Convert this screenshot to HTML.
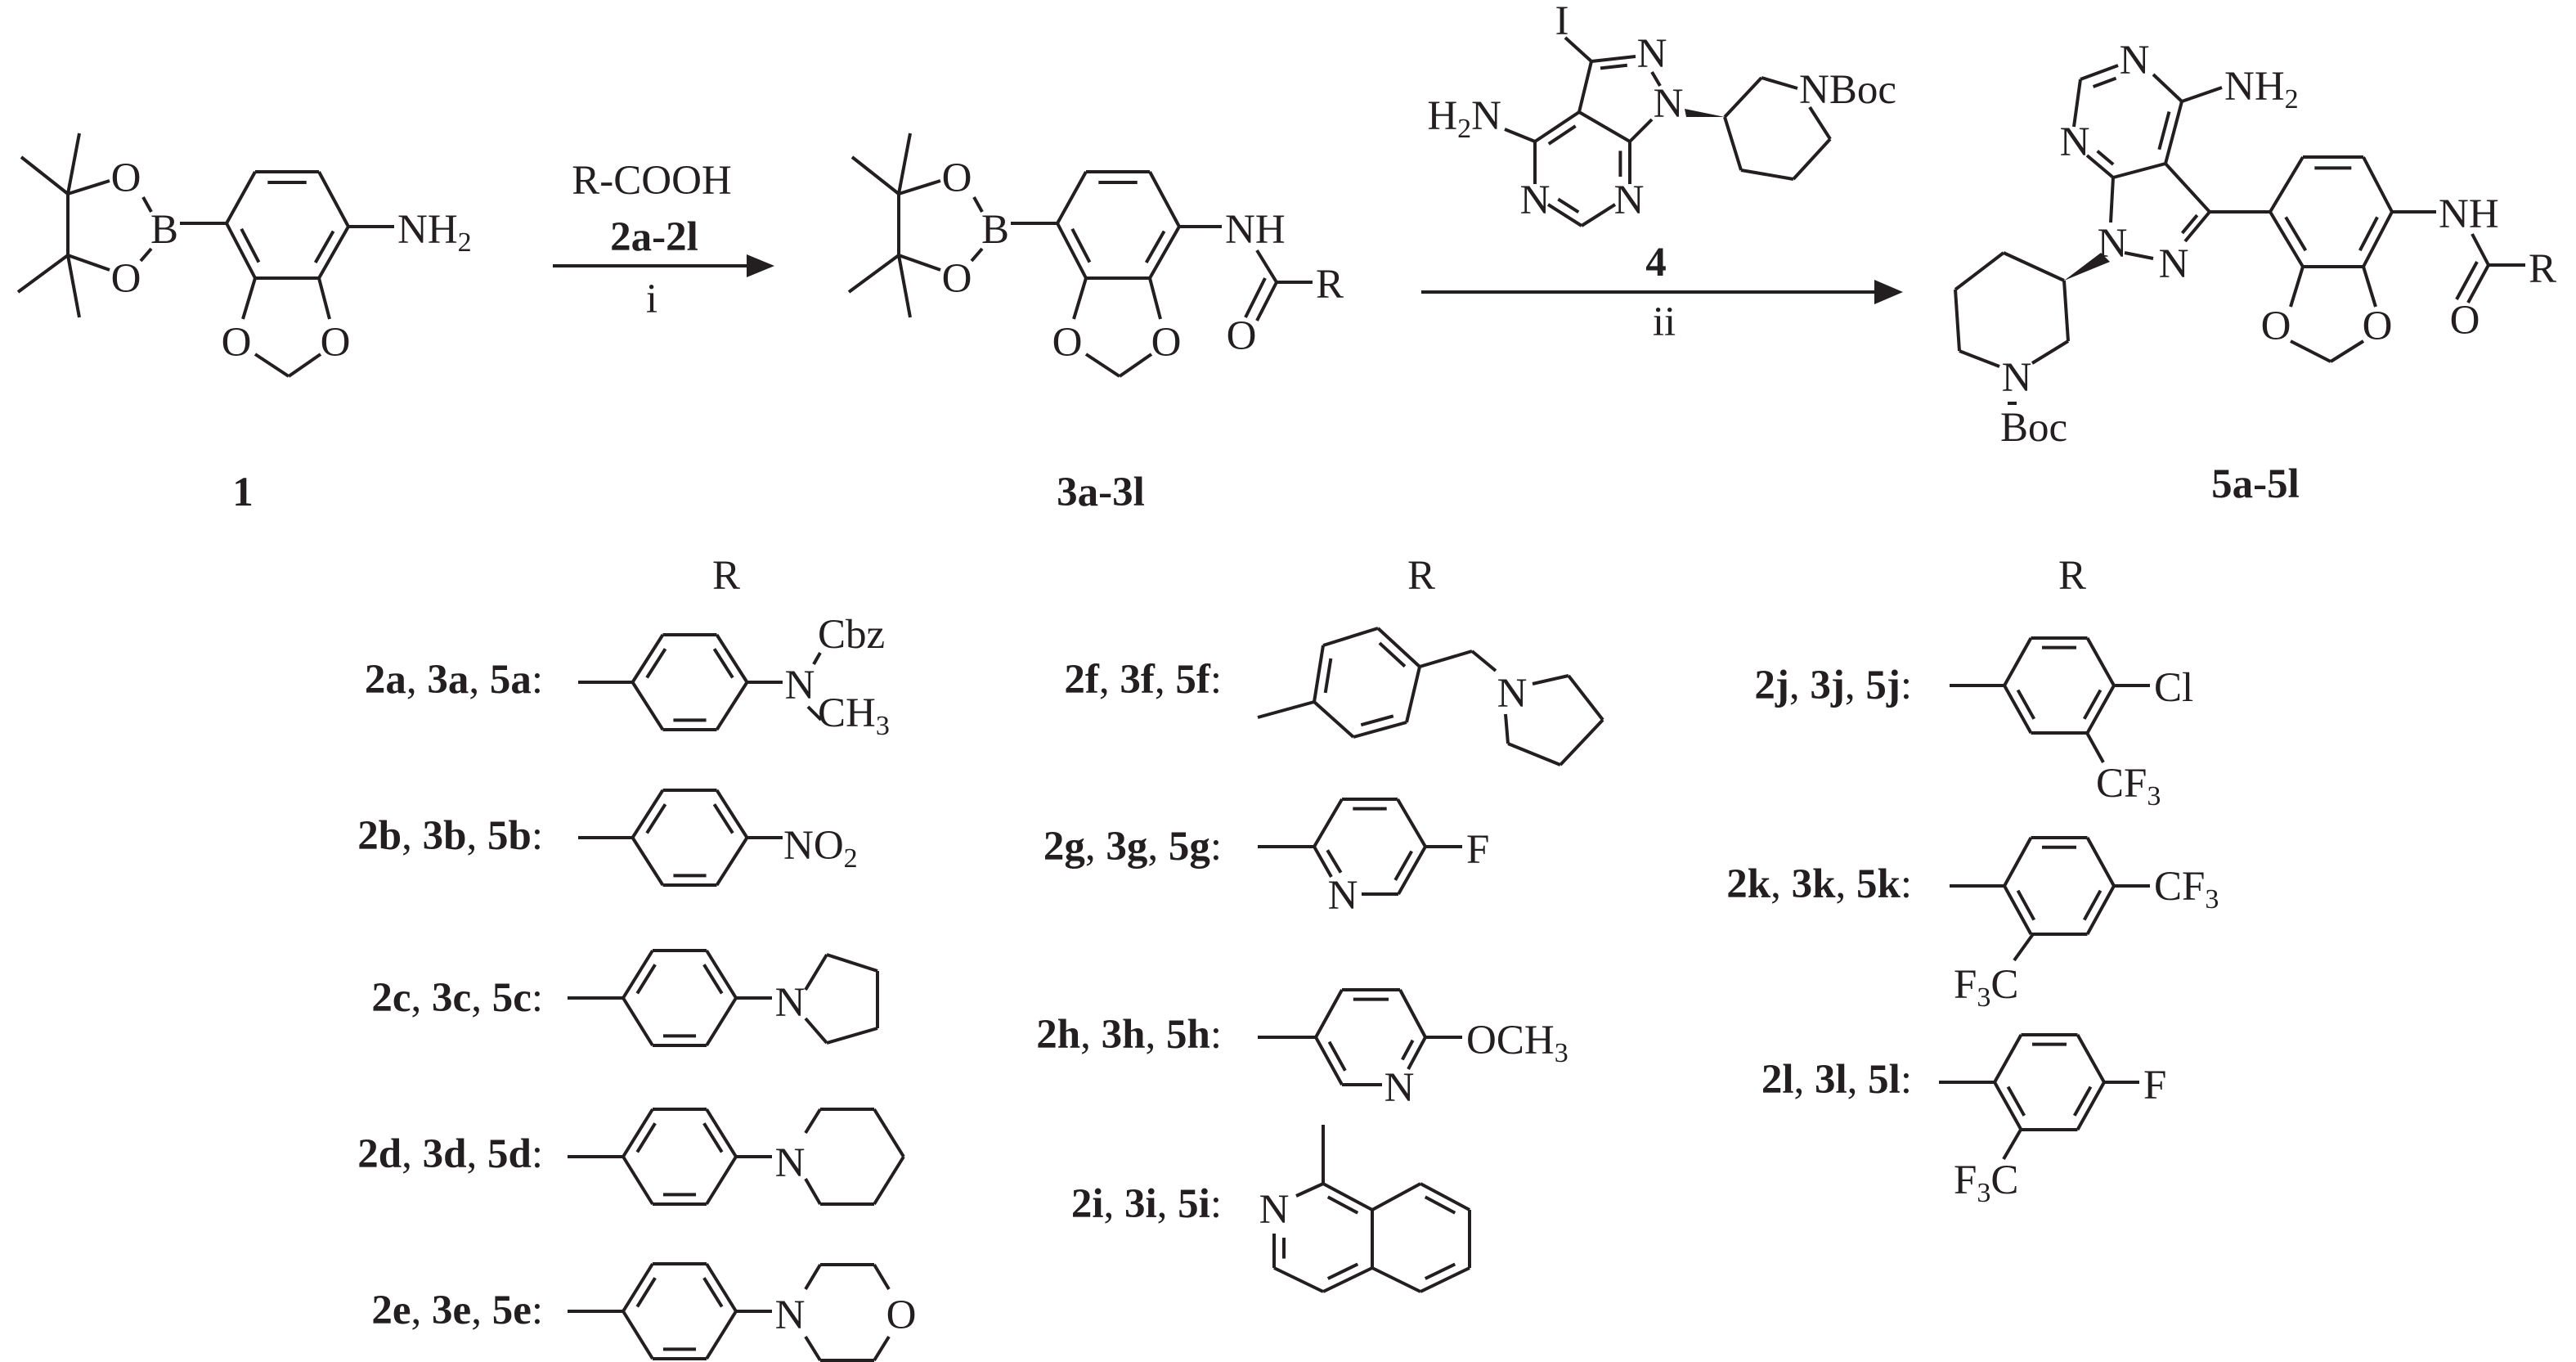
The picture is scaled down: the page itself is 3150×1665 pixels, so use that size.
<!DOCTYPE html>
<html><head><meta charset="utf-8"><style>
html,body{margin:0;padding:0;background:#fff;}
svg{display:block}
text{font-family:"Liberation Serif",serif;font-size:51px;fill:#231f20}
.b{font-weight:bold}
.m{text-anchor:middle}
.e{text-anchor:end}
</style></head><body>
<svg id="s" xmlns="http://www.w3.org/2000/svg" width="3150" height="1665" viewBox="0 0 3150 1665">
<g id="L" stroke="#231f20" stroke-width="4" fill="none" stroke-linecap="butt"></g>
<polygon points="947,325 913,311 913,339" fill="#231f20"/>
<polygon points="2327,357 2292,342 2292,372" fill="#231f20"/>
<polygon points="2060,133 2062,143 2109,143" fill="#231f20"/>
<polygon points="2569,309 2580,320 2524,343" fill="#231f20"/>

<text class="m" x="154" y="234">O</text><text class="m" x="154" y="357">O</text>
<text class="m" x="201" y="297">B</text>
<text x="486" y="297">NH<tspan font-size="34" dy="10">2</tspan></text>
<text class="m" x="289" y="435">O</text><text class="m" x="410" y="435">O</text>
<text class="m b" x="297" y="618">1</text>
<text class="m" x="797" y="237">R-COOH</text>
<text class="m b" x="800" y="306">2a-2l</text>
<text class="m" x="797" y="382">i</text>
<text class="m" x="1170" y="234">O</text><text class="m" x="1170" y="357">O</text>
<text class="m" x="1217" y="297">B</text>
<text x="1498" y="297">NH</text>
<text x="1609" y="364">R</text>
<text class="m" x="1518" y="427">O</text>
<text class="m" x="1305" y="435">O</text><text class="m" x="1426" y="435">O</text>
<text class="m b" x="1346" y="618">3a-3l</text>
<text class="m" x="1910" y="42">I</text>
<text class="m" x="2020" y="82">N</text>
<text class="m" x="2040" y="143">N</text>
<text x="2200" y="126">NBoc</text>
<text class="e" x="1836" y="158">H<tspan font-size="34" dy="10">2</tspan><tspan dy="-10">N</tspan></text>
<text class="m" x="1877" y="261">N</text>
<text class="m" x="1992" y="261">N</text>
<text class="m b" x="2025" y="337">4</text>
<text class="m" x="2035" y="410">ii</text>
<text class="m" x="2610" y="90">N</text>
<text x="2720" y="122">NH<tspan font-size="34" dy="10">2</tspan></text>
<text class="m" x="2537" y="190">N</text>
<text class="m" x="2583" y="314">N</text>
<text class="m" x="2658" y="339">N</text>
<text x="2982" y="278">NH</text>
<text x="3092" y="345">R</text>
<text class="m" x="3014" y="408">O</text>
<text class="m" x="2783" y="415">O</text><text class="m" x="2907" y="415">O</text>
<text class="m" x="2466" y="478">N</text>
<text x="2446" y="539">Boc</text>
<text class="m b" x="2758" y="608">5a-5l</text>

<text class="m" x="888" y="720">R</text>
<text class="m" x="1738" y="720">R</text>
<text class="m" x="2534" y="720">R</text>

<text class="e" x="664" y="847"><tspan class="b">2a</tspan>, <tspan class="b">3a</tspan>, <tspan class="b">5a</tspan>:</text>
<text class="e" x="664" y="1038"><tspan class="b">2b</tspan>, <tspan class="b">3b</tspan>, <tspan class="b">5b</tspan>:</text>
<text class="e" x="664" y="1236"><tspan class="b">2c</tspan>, <tspan class="b">3c</tspan>, <tspan class="b">5c</tspan>:</text>
<text class="e" x="664" y="1427"><tspan class="b">2d</tspan>, <tspan class="b">3d</tspan>, <tspan class="b">5d</tspan>:</text>
<text class="e" x="664" y="1618"><tspan class="b">2e</tspan>, <tspan class="b">3e</tspan>, <tspan class="b">5e</tspan>:</text>
<text class="e" x="1494" y="847"><tspan class="b">2f</tspan>, <tspan class="b">3f</tspan>, <tspan class="b">5f</tspan>:</text>
<text class="e" x="1494" y="1051"><tspan class="b">2g</tspan>, <tspan class="b">3g</tspan>, <tspan class="b">5g</tspan>:</text>
<text class="e" x="1494" y="1281"><tspan class="b">2h</tspan>, <tspan class="b">3h</tspan>, <tspan class="b">5h</tspan>:</text>
<text class="e" x="1494" y="1488"><tspan class="b">2i</tspan>, <tspan class="b">3i</tspan>, <tspan class="b">5i</tspan>:</text>
<text class="e" x="2338" y="854"><tspan class="b">2j</tspan>, <tspan class="b">3j</tspan>, <tspan class="b">5j</tspan>:</text>
<text class="e" x="2338" y="1097"><tspan class="b">2k</tspan>, <tspan class="b">3k</tspan>, <tspan class="b">5k</tspan>:</text>
<text class="e" x="2338" y="1336"><tspan class="b">2l</tspan>, <tspan class="b">3l</tspan>, <tspan class="b">5l</tspan>:</text>

<text class="m" x="978" y="854">N</text>
<text x="1000" y="792">Cbz</text>
<text x="1000" y="888">CH<tspan font-size="34" dy="10">3</tspan></text>
<text x="958" y="1050">NO<tspan font-size="34" dy="10">2</tspan></text>
<text class="m" x="966" y="1242">N</text>
<text class="m" x="966" y="1438">N</text>
<text class="m" x="966" y="1624">N</text>
<text class="m" x="1102" y="1624">O</text>
<text class="m" x="1849" y="864">N</text>
<text class="m" x="1642" y="1111">N</text>
<text x="1793" y="1055">F</text>
<text class="m" x="1711" y="1346">N</text>
<text x="1793" y="1288">OCH<tspan font-size="34" dy="10">3</tspan></text>
<text class="m" x="1558" y="1495">N</text>
<text x="2634" y="857">Cl</text>
<text x="2563" y="974">CF<tspan font-size="34" dy="10">3</tspan></text>
<text x="2634" y="1100">CF<tspan font-size="34" dy="10">3</tspan></text>
<text x="2389" y="1220">F<tspan font-size="34" dy="10">3</tspan><tspan dy="-10">C</tspan></text>
<text x="2621" y="1343">F</text>
<text x="2389" y="1459">F<tspan font-size="34" dy="10">3</tspan><tspan dy="-10">C</tspan></text>
</svg>
<script>
var g=document.getElementById('L'),NS='http://www.w3.org/2000/svg';
function L(a,b,c,d){var e=document.createElementNS(NS,'line');e.setAttribute('x1',a);e.setAttribute('y1',b);e.setAttribute('x2',c);e.setAttribute('y2',d);g.appendChild(e);}
function P(p){for(var i=0;i<p.length-1;i++)L(p[i][0],p[i][1],p[i+1][0],p[i+1][1]);}
function I(A,B,C){var k=0.8,s=0.12;var a=[C[0]+k*(A[0]-C[0]),C[1]+k*(A[1]-C[1])],b=[C[0]+k*(B[0]-C[0]),C[1]+k*(B[1]-C[1])];var dx=b[0]-a[0],dy=b[1]-a[1];L(a[0]+s*dx,a[1]+s*dy,b[0]-s*dx,b[1]-s*dy);}
function ring(p,d){var c=[0,0];p.forEach(function(q){c[0]+=q[0]/p.length;c[1]+=q[1]/p.length;});P(p.concat([p[0]]));d.forEach(function(i){I(p[i],p[(i+1)%p.length],c);});}
function hexP(cx,cy,hw,tx,hh){return [[cx-hw,cy],[cx-tx,cy-hh],[cx+tx,cy-hh],[cx+hw,cy],[cx+tx,cy+hh],[cx-tx,cy+hh]];}
[0,1016].forEach(function(o){
 ring([[312+o,210],[390+o,210],[426+o,277],[390+o,340],[312+o,340],[277+o,273]],[0,2,4]);
 L(220+o,273,277+o,273);
 L(175+o,241,185+o,259);L(185+o,304,172+o,319);
 L(83+o,237,83+o,312);L(83+o,237,97+o,163);L(83+o,237,26+o,192);L(83+o,237,134+o,221);
 L(83+o,312,97+o,388);L(83+o,312,22+o,357);L(83+o,312,134+o,330);
 L(312+o,340,297+o,390);L(390+o,340,403+o,390);
 P([[312+o,433],[353+o,460],[392+o,433]]);
});
L(426,277,482,277);
L(1442,277,1494,277);
L(1537,306,1561,345);L(1561,345,1605,345);L(1561,345,1537,392);L(1547,340,1523,388);
L(676,325,920,325);L(1738,357,2300,357);
L(1914,46,1946,75);L(1946,75,2000,69);I([1946,75],[2000,69],[1975,120]);
L(2020,88,2030,105);L(2020,146,1993,173);L(1993,173,1931,137);L(1931,137,1946,75);
L(1931,137,1877,173);I([1931,137],[1877,173],[1935,205]);
L(1877,173,1840,158);L(1877,173,1877,225);
L(1893,250,1934,276);I([1893,250],[1934,276],[1935,205]);
L(1934,276,1975,250);L(1993,225,1993,173);I([1993,225],[1993,173],[1935,205]);
P([[2109,143],[2154,95],[2198,108]]);P([[2213,131],[2238,170],[2193,219],[2129,208],[2109,143]]);
L(2633,91,2668,124);L(2668,124,2717,107);
L(2544,97,2590,80);I([2544,97],[2590,80],[2600,150]);
L(2544,97,2536,155);
L(2552,190,2584,217);I([2552,190],[2584,217],[2600,150]);
L(2584,217,2648,200);L(2648,200,2668,124);I([2648,200],[2668,124],[2600,150]);
L(2584,217,2581,272);
L(2598,309,2633,316);
L(2672,295,2702,259);I([2672,295],[2702,259],[2640,262]);
L(2648,200,2702,259);L(2702,259,2776,259);
ring([[2816,192],[2890,192],[2925,259],[2890,326],[2816,326],[2776,259]],[0,2,4]);
L(2925,259,2979,259);
L(3023,286,3043,324);L(3043,324,3088,324);L(3043,324,3018,370);L(3029,320,3004,366);
L(2816,326,2801,375);L(2890,326,2905,375);P([[2801,417],[2850,442],[2890,417]]);
P([[2524,343],[2450,309],[2391,354],[2396,429],[2445,448]]);L(2485,444,2529,417);L(2529,417,2524,343);
L(2455,493,2466,493);
ring(hexP(843.5,834,70,33,58),[0,2,4]);L(707,834,773.5,834);L(913.5,834,957,834);
L(995,812,1003,798);L(988,864,1004,880);
ring(hexP(843.5,1024,70,33,58),[0,2,4]);L(707,1024,773.5,1024);L(913.5,1024,957,1024);
[1220,1414,1603].forEach(function(y){ring(hexP(831,y,69,33,58),[0,2,4]);L(694,y,762,y);L(900,y,944,y);});
P([[985,1210],[1011,1167],[1073,1187],[1073,1257],[1011,1275],[985,1245]]);
P([[985,1385],[1003,1356],[1069,1356],[1105,1414],[1069,1472],[1003,1472],[985,1441]]);
P([[985,1576],[1003,1546],[1069,1546],[1087,1576]]);P([[1087,1634],[1069,1663],[1003,1663],[985,1634]]);
ring([[1607,858],[1618,789],[1685,768],[1736,815],[1720,883],[1655,901]],[0,2,4]);
L(1538,877,1607,858);P([[1736,815],[1800,796],[1829,820]]);
P([[1874,836],[1918,826],[1960,880],[1908,935],[1844,909],[1841,873]]);
P([[1628,1072],[1607,1035],[1641,977],[1709,977],[1743,1035],[1710,1093],[1665,1093]]);
I([1641,977],[1709,977],[1675,1035]);I([1743,1035],[1710,1093],[1675,1035]);I([1607,1035],[1634,1080],[1675,1035]);
L(1538,1035,1607,1035);L(1743,1035,1788,1035);
P([[1690,1326],[1641,1326],[1609,1268],[1641,1210],[1712,1210],[1743,1268],[1722,1307]]);
I([1641,1210],[1712,1210],[1676,1268]);I([1609,1268],[1641,1326],[1676,1268]);I([1743,1268],[1722,1307],[1676,1268]);
L(1538,1268,1609,1268);L(1743,1268,1788,1268);
L(1618,1375,1618,1447);L(1618,1447,1585,1462);L(1558,1508,1558,1550);
P([[1558,1550],[1618,1579],[1678,1550],[1678,1479],[1618,1447]]);
I([1618,1447],[1678,1479],[1618,1513]);I([1558,1508],[1558,1550],[1618,1513]);I([1618,1579],[1678,1550],[1618,1513]);
P([[1678,1479],[1737,1447],[1797,1479],[1797,1550],[1737,1579],[1678,1550]]);
I([1737,1447],[1797,1479],[1737,1513]);I([1797,1550],[1737,1579],[1737,1513]);
ring(hexP(2518,838,67,34.5,58),[1,3,5]);L(2384,838,2451,838);L(2585,838,2629,838);L(2552,896,2572,932);
ring(hexP(2518,1083,67,34.5,59),[1,3,5]);L(2384,1083,2451,1083);L(2585,1083,2629,1083);L(2486,1142,2463,1174);
ring(hexP(2506,1323,67,34.5,58),[1,3,5]);L(2371,1323,2439,1323);L(2573,1323,2616,1323);L(2471,1381,2450,1417);
</script>
</body></html>
